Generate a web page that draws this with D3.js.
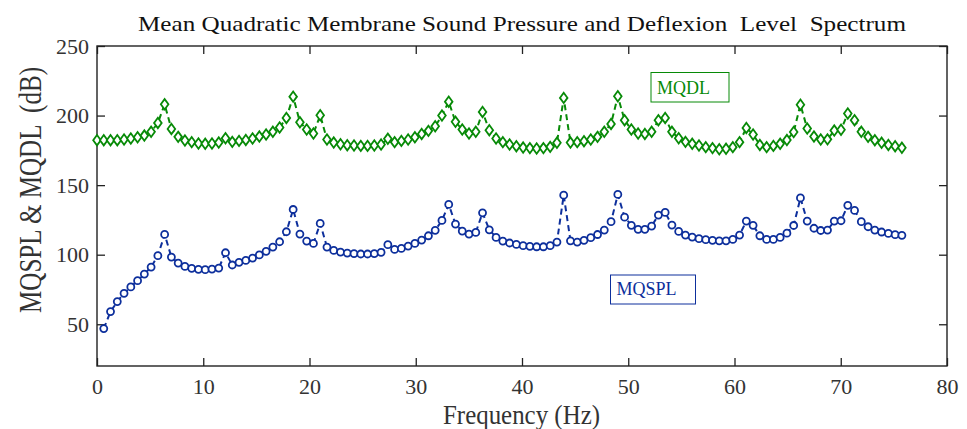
<!DOCTYPE html>
<html>
<head>
<meta charset="utf-8">
<script src="https://cdn.jsdelivr.net/npm/d3@7"></script>
<style>
  body { margin: 0; background: #fff; }
  text { font-family: 'Liberation Serif', 'Times New Roman', serif; white-space: pre; }
</style>
</head>
<body>
<div id="chart"></div>
<script>
// sample spacing of the spectrum (Hz); MQDL starts at 0 Hz, MQSPL at the first step
const freqStep = 0.6366;

const mqdl = [
  182.3, 182.3, 182.3, 182.3, 182.8, 183.5, 184.4, 185.6, 188.3, 194.7,
  208.1, 190.4, 184.7, 182.1, 180.9, 179.9, 179.7, 179.9, 180.6, 183.7,
  181.1, 181.8, 182.5, 183.5, 184.9, 186.4, 188.3, 191.4, 198.3, 213.6,
  195.2, 190.0, 187.1, 200.2, 182.8, 180.6, 179.4, 178.7, 178.5, 178.2,
  178.2, 178.5, 179.2, 183.3, 180.9, 181.8, 182.8, 184.4, 186.8, 189.0,
  192.3, 200.0, 210.0, 195.5, 190.0, 187.1, 188.3, 202.6, 189.5, 183.5,
  180.9, 179.2, 178.0, 177.0, 176.6, 176.3, 176.6, 177.5, 180.4, 212.7,
  180.6, 180.9, 181.6, 182.8, 184.7, 188.3, 194.0, 213.9, 196.7, 190.0,
  187.1, 186.8, 188.3, 196.7, 198.3, 188.3, 183.7, 181.1, 179.7, 178.5,
  177.3, 176.6, 175.8, 176.1, 177.3, 180.9, 191.1, 186.4, 178.9, 177.3,
  178.2, 179.7, 182.4, 188.2, 207.8, 190.7, 184.9, 182.8, 182.9, 189.2,
  189.8, 201.5, 196.7, 188.3, 184.7, 182.3, 180.4, 178.9, 178.0, 176.8
];

const mqspl = [
         46.9,  59.1,  66.3,  72.2,  76.8,  81.3,  86.1,  91.1,  99.3,
  114.6,  98.3,  94.0,  91.6,  90.2,  89.5,  89.2,  89.7,  90.4, 101.4,
   92.6,  94.5,  95.9,  97.6,  99.8, 102.4, 105.5, 109.3, 116.5, 132.5,
  114.8, 109.8, 108.1, 122.5, 105.5, 103.1, 101.9, 101.2, 100.7, 100.5,
  100.5, 100.7, 101.7, 107.2, 103.8, 104.5, 106.2, 108.1, 110.5, 113.6,
  117.5, 124.6, 136.1, 122.0, 117.0, 114.8, 116.0, 130.1, 117.9, 112.4,
  109.8, 108.4, 107.4, 106.5, 106.0, 105.7, 105.7, 106.5, 109.1, 142.8,
  110.0, 109.1, 110.3, 112.2, 114.5, 117.7, 123.7, 143.3, 127.0, 121.1,
  118.2, 118.2, 120.6, 128.5, 130.4, 121.3, 116.7, 114.1, 112.7, 111.5,
  110.8, 110.3, 110.0, 110.0, 111.0, 114.1, 124.2, 121.1, 113.6, 111.0,
  111.0, 112.4, 115.5, 121.0, 140.8, 124.2, 119.0, 117.4, 117.7, 124.2,
  124.4, 135.5, 131.8, 123.7, 120.1, 117.7, 116.3, 115.3, 114.4, 113.9
];

const xTicks = [0, 10, 20, 30, 40, 50, 60, 70, 80];
const yTicks = [50, 100, 150, 200, 250];

const titleText = 'Mean Quadratic Membrane Sound Pressure and Deflexion  Level  Spectrum';
const xLabel = 'Frequency (Hz)';
const yLabel = 'MQSPL & MQDL  (dB)';

let width = 967;
let height = 429;
let margin = { top: 46, right: 20, bottom: 63, left: 97 };
let innerW = width - margin.left - margin.right;
let innerH = height - margin.top - margin.bottom;

let blue = '#0d2f9c';
let green = '#078a07';

let dlPoints = mqdl.map((v, i) => ({ f: i * freqStep, v: v }));
let splPoints = mqspl.map((v, i) => ({ f: (i + 1) * freqStep, v: v }));

let xScale = d3.scaleLinear().domain([0, 80]).range([0, innerW]);
let yScale = d3.scaleLinear().domain([20, 250]).range([innerH, 0]);

let svg = d3.select('#chart').append('svg')
  .attr('width', width)
  .attr('height', height);

let chart = svg.append('g')
  .attr('transform', `translate(${margin.left},${margin.top})`);

// axes: ticks point inward on all four sides
let tickLen = 8;
let axisStyle = g => {
  g.select('.domain').remove();
  g.selectAll('line').attr('stroke', '#222').attr('stroke-width', 1.3);
  g.selectAll('text').attr('fill', '#333').attr('font-size', 22)
    .attr('font-family', "'Liberation Serif', serif");
};

chart.append('g')
  .attr('transform', `translate(0,${innerH})`)
  .call(d3.axisBottom(xScale).tickValues(xTicks).tickSizeInner(-tickLen).tickPadding(12).tickSizeOuter(0))
  .call(axisStyle);

chart.append('g')
  .call(d3.axisTop(xScale).tickValues(xTicks).tickSizeInner(-tickLen).tickSizeOuter(0).tickFormat(''))
  .call(axisStyle);

chart.append('g')
  .call(d3.axisLeft(yScale).tickValues(yTicks).tickSizeInner(-tickLen).tickPadding(8).tickSizeOuter(0))
  .call(axisStyle);

chart.append('g')
  .attr('transform', `translate(${innerW},0)`)
  .call(d3.axisRight(yScale).tickValues(yTicks).tickSizeInner(-tickLen).tickSizeOuter(0).tickFormat(''))
  .call(axisStyle);

chart.append('rect')
  .attr('width', innerW)
  .attr('height', innerH)
  .attr('fill', 'none')
  .attr('stroke', '#222')
  .attr('stroke-width', 1.4);

let line = d3.line()
  .x(d => xScale(d.f))
  .y(d => yScale(d.v));

// MQDL (green, diamonds)
chart.append('path')
  .datum(dlPoints)
  .attr('d', line)
  .attr('fill', 'none')
  .attr('stroke', green)
  .attr('stroke-width', 2)
  .attr('stroke-dasharray', '6,4');

chart.selectAll('.diamond').data(dlPoints).enter().append('path')
  .attr('class', 'diamond')
  .attr('transform', d => `translate(${xScale(d.f)},${yScale(d.v)})`)
  .attr('d', 'M0,-5.2L3.8,0L0,5.2L-3.8,0Z')
  .attr('fill', 'white')
  .attr('stroke', green)
  .attr('stroke-width', 1.8);

// MQSPL (blue, circles)
chart.append('path')
  .datum(splPoints)
  .attr('d', line)
  .attr('fill', 'none')
  .attr('stroke', blue)
  .attr('stroke-width', 2)
  .attr('stroke-dasharray', '6,4');

chart.selectAll('.circle').data(splPoints).enter().append('circle')
  .attr('class', 'circle')
  .attr('cx', d => xScale(d.f))
  .attr('cy', d => yScale(d.v))
  .attr('r', 3.5)
  .attr('fill', 'white')
  .attr('stroke', blue)
  .attr('stroke-width', 1.8);

// text boxes
let addBox = (x, y, w, h, baseline, label, color) => {
  svg.append('rect')
    .attr('x', x).attr('y', y).attr('width', w).attr('height', h)
    .attr('fill', 'white').attr('stroke', color).attr('stroke-width', 1);
  svg.append('text')
    .attr('x', x + 6).attr('y', baseline)
    .attr('font-size', 18)
    .attr('fill', color)
    .text(label);
};
addBox(651, 72.5, 78, 29.5, 93.5, 'MQDL', green);
addBox(610.5, 275, 85, 29, 294.5, 'MQSPL', blue);

// titles
svg.append('text')
  .attr('x', 522)
  .attr('y', 31)
  .attr('text-anchor', 'middle')
  .attr('font-size', 22)
  .attr('textLength', 768)
  .attr('lengthAdjust', 'spacingAndGlyphs')
  .attr('fill', '#111')
  .text(titleText);

svg.append('text')
  .attr('x', 521.5)
  .attr('y', 424)
  .attr('text-anchor', 'middle')
  .attr('font-size', 27)
  .attr('textLength', 157)
  .attr('lengthAdjust', 'spacingAndGlyphs')
  .attr('fill', '#333')
  .text(xLabel);

svg.append('text')
  .attr('transform', 'translate(41,190) rotate(-90)')
  .attr('text-anchor', 'middle')
  .attr('font-size', 31)
  .attr('textLength', 246)
  .attr('lengthAdjust', 'spacingAndGlyphs')
  .attr('fill', '#333')
  .text(yLabel);
</script>
</body>
</html>
